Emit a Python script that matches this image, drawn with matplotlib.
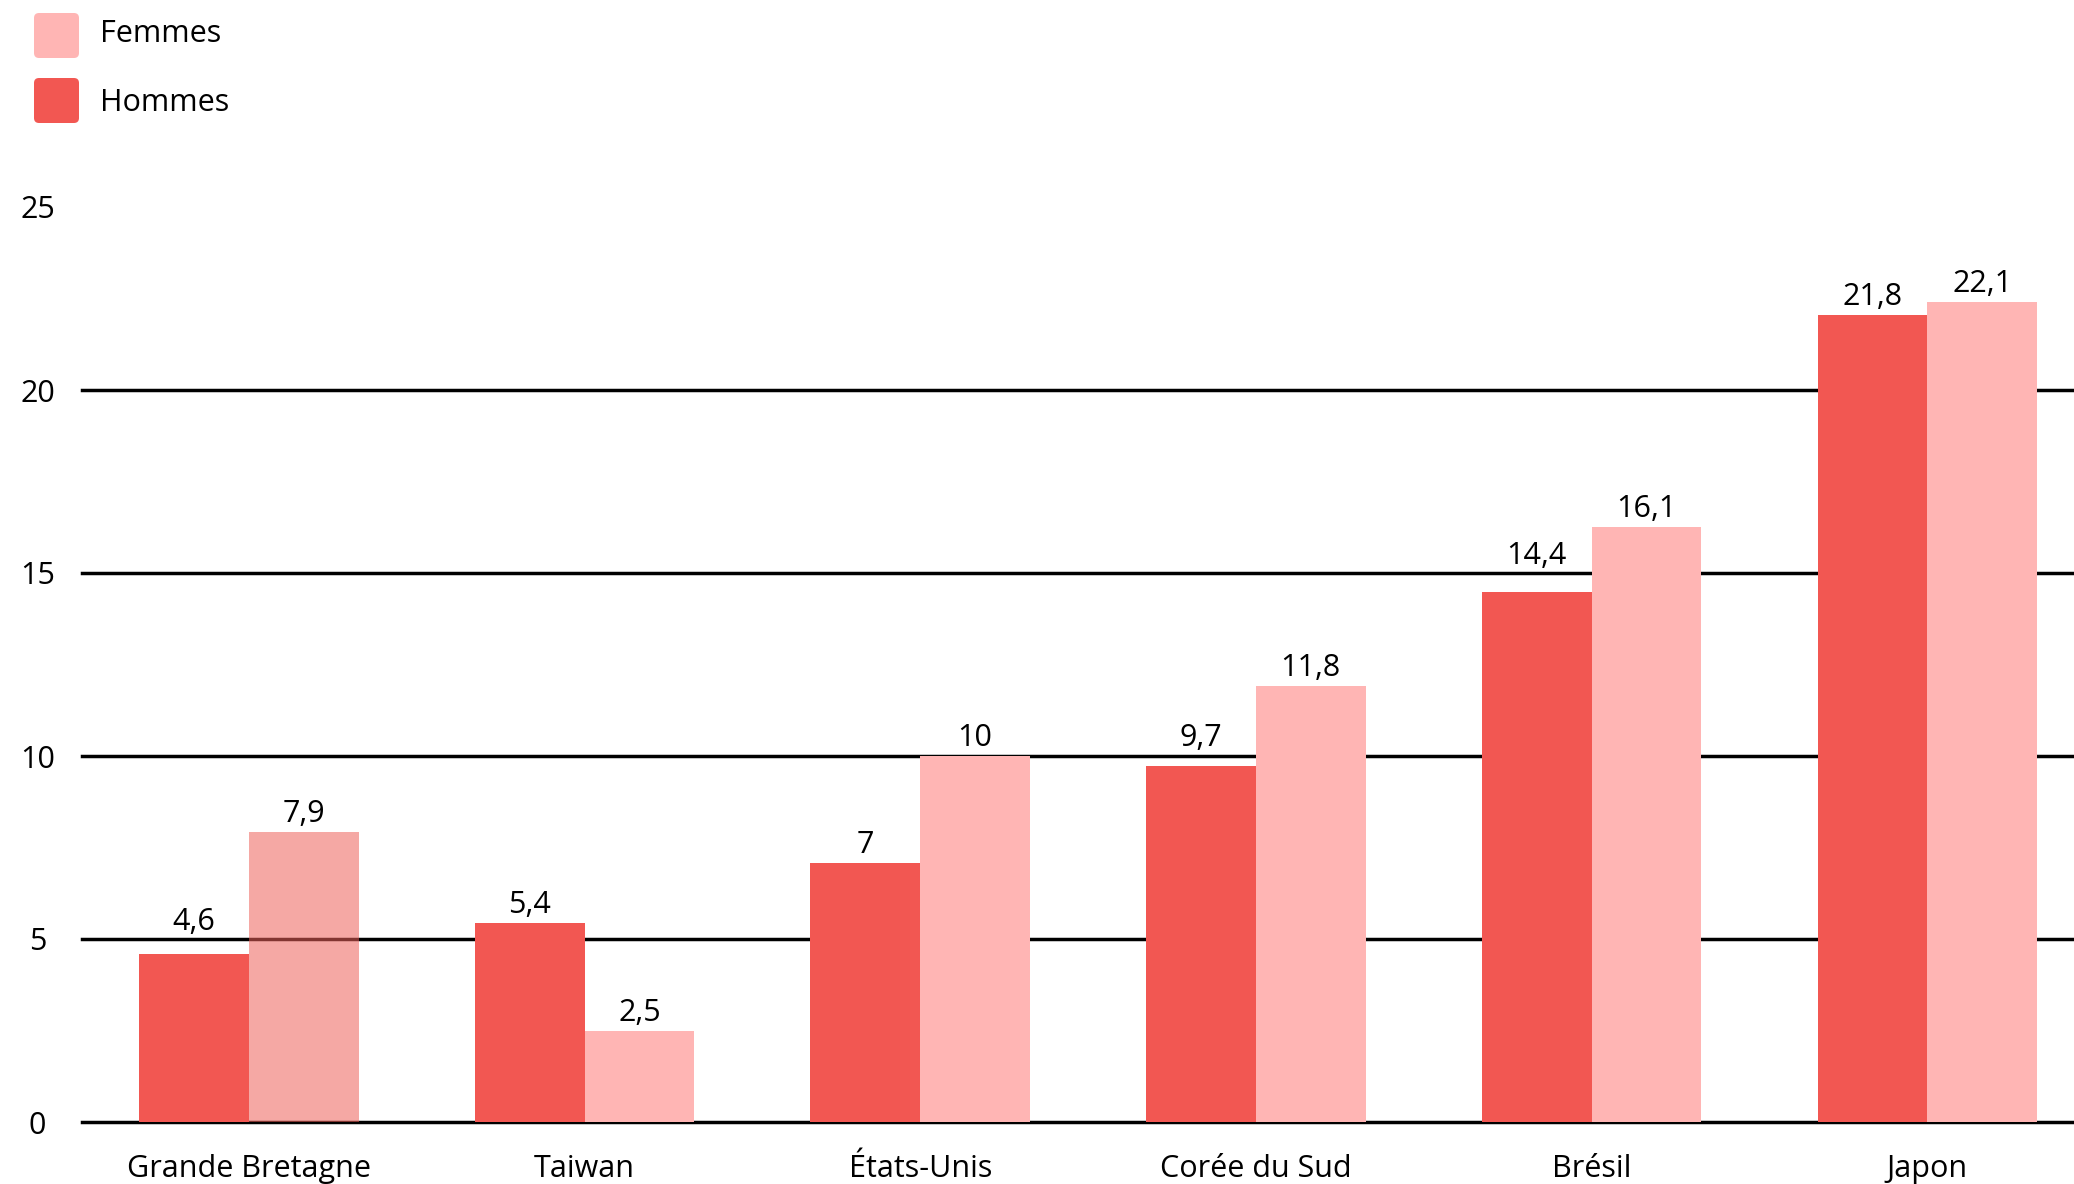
import matplotlib
matplotlib.use('Agg')
import matplotlib.pyplot as plt
import numpy as np
from matplotlib.patches import FancyBboxPatch
from matplotlib.transforms import IdentityTransform

# données (hauteurs des barres telles que dessinées + étiquettes affichées)
pays = ['Grande Bretagne', 'Taiwan', 'États-Unis', 'Corée du Sud', 'Brésil', 'Japon']
hommes = [4.6, 5.45, 7.08, 9.73, 14.49, 22.05]
femmes = [7.92, 2.5, 10.0, 11.91, 16.27, 22.4]
hommes_txt = ['4,6', '5,4', '7', '9,7', '14,4', '21,8']
femmes_txt = ['7,9', '2,5', '10', '11,8', '16,1', '22,1']
yticks = [0, 5, 10, 15, 20, 25]

c_h = '#f25752'
c_f = '#ffb5b4'

plt.rcParams['font.family'] = ['Open Sans', 'DejaVu Sans']
fs = 22

W, H = 2074, 1184
fig = plt.figure(figsize=(W / 100, H / 100), dpi=100)
ax = fig.add_axes([82 / W, 1 - 1122 / H, 1 - 82 / W, (1122 - 207) / H])

x = np.arange(len(pays))
w = 0.327

# lignes horizontales (pas de ligne à 25)
for v in yticks[:-1]:
    ax.axhline(v, color='black', lw=2.5, zorder=1, clip_on=False)

ax.bar(x - w / 2, hommes, w, align='center', color=c_h, zorder=2)
bars_f = ax.bar(x + w / 2, femmes, w, align='center', color=c_f, zorder=2)
# la barre Grande Bretagne / femmes est un peu transparente
bars_f[0].set_facecolor('#ee625a')
bars_f[0].set_alpha(0.55)

# certaines étiquettes hommes sont placées plus haut dans l'original
decalage = {0: 12, 3: 9, 4: 15}
for i in range(len(pays)):
    off = decalage.get(i, 2)
    ax.annotate(hommes_txt[i], (x[i] - w / 2, hommes[i]), xytext=(0, off),
                textcoords='offset points', ha='center', va='bottom', fontsize=fs)
    ax.annotate(femmes_txt[i], (x[i] + w / 2, femmes[i]), xytext=(0, 2),
                textcoords='offset points', ha='center', va='bottom', fontsize=fs)

ax.set_xlim(-0.497, 5.437)
ax.set_ylim(0, 25)
ax.set_xticks(x)
ax.set_xticklabels(pays, fontsize=fs)
ax.set_yticks(yticks)
ax.set_yticklabels([str(v) for v in yticks], fontsize=fs, ha='center')
ax.tick_params(axis='y', length=0, pad=32)
ax.tick_params(axis='x', length=0, pad=23)
for s in ax.spines.values():
    s.set_visible(False)

# légende
tr = IdentityTransform()
for (lab, col, ytop, ytxt) in [('Femmes', c_f, 13, 34), ('Hommes', c_h, 78, 103)]:
    box = FancyBboxPatch((34, H - ytop - 45), 45, 45,
                         boxstyle='round,pad=0,rounding_size=5',
                         transform=tr, facecolor=col, edgecolor='none')
    fig.patches.append(box)
    fig.text(100 / W, 1 - ytxt / H, lab, fontsize=fs, va='center', ha='left')

fig.savefig('out.png', dpi=100)
